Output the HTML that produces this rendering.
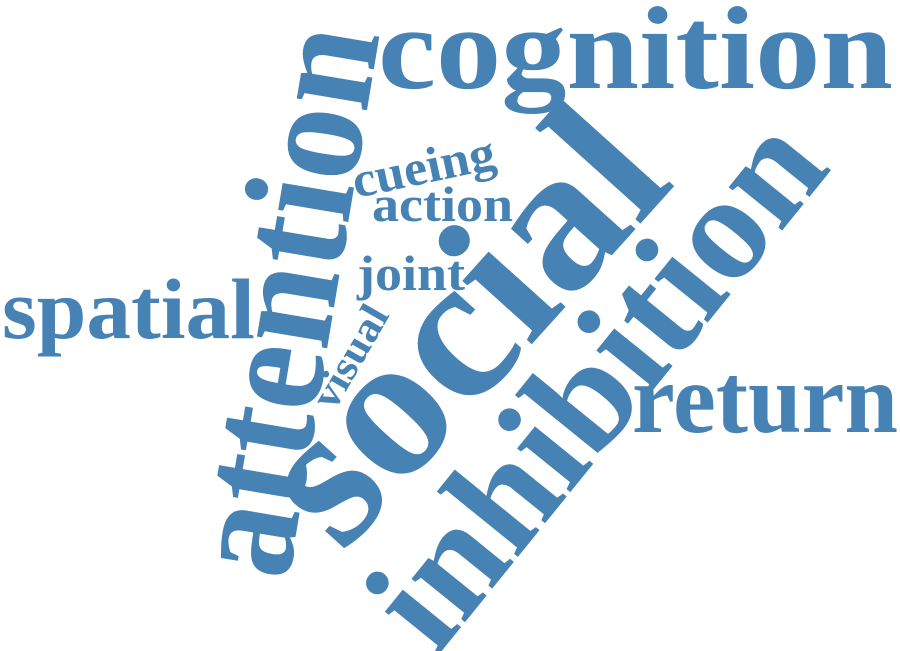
<!DOCTYPE html>
<html><head><meta charset="utf-8"><style>
html,body{margin:0;padding:0;background:#fff;}
svg{display:block}
text{font-family:"Liberation Serif",serif;font-weight:bold;fill:#4682b4;}
</style></head><body>
<svg width="900" height="651" viewBox="0 0 900 651">
<text x="378" y="88" font-size="118" textLength="515" lengthAdjust="spacingAndGlyphs">cognition</text>
<text transform="translate(288,582) rotate(-80.5)" font-size="155" textLength="555" lengthAdjust="spacingAndGlyphs">attention</text>
<text transform="translate(342,555) rotate(-48)" font-size="205" textLength="500" lengthAdjust="spacingAndGlyphs">social</text>
<text transform="translate(436,658) rotate(-51)" font-size="150" textLength="630" lengthAdjust="spacingAndGlyphs">inhibition</text>
<text x="632" y="432" font-size="100" textLength="266" lengthAdjust="spacingAndGlyphs">return</text>
<text x="2" y="338" font-size="86" textLength="253" lengthAdjust="spacingAndGlyphs">spatial</text>
<text transform="translate(356,198) rotate(-12)" font-size="50" textLength="145" lengthAdjust="spacingAndGlyphs">cueing</text>
<text x="372" y="221" font-size="50" textLength="141" lengthAdjust="spacingAndGlyphs">action</text>
<text x="357" y="290" font-size="50" textLength="108" lengthAdjust="spacingAndGlyphs">joint</text>
<text transform="translate(334,412) rotate(-60)" font-size="42" textLength="112" lengthAdjust="spacingAndGlyphs">visual</text>
</svg>
</body></html>
